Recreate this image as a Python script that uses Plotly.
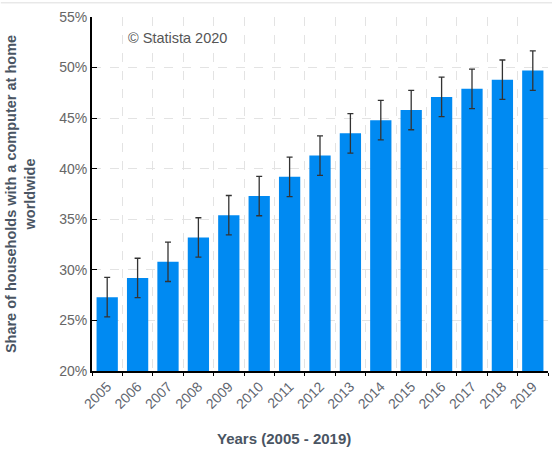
import plotly.graph_objects as go

years = ["2005", "2006", "2007", "2008", "2009", "2010", "2011", "2012",
         "2013", "2014", "2015", "2016", "2017", "2018", "2019"]
share = [27.3, 29.2, 30.8, 33.2, 35.4, 37.3, 39.2, 41.3,
         43.5, 44.8, 45.8, 47.1, 47.9, 48.8, 49.7]
err = [1.95, 1.95, 1.95, 1.95, 1.95, 1.95, 1.95, 1.95,
       1.95, 1.95, 1.95, 1.95, 1.95, 1.95, 1.95]
ytick_vals = [20, 25, 30, 35, 40, 45, 50, 55]
ytick_text = ["20%", "25%", "30%", "35%", "40%", "45%", "50%", "55%"]

FONT = "Liberation Sans, Arial, sans-serif"

fig = go.Figure(go.Bar(
    x=years, y=share,
    marker=dict(color="#008af2", line=dict(width=0)),
    error_y=dict(type="data", array=err, visible=True,
                 color="#333333", thickness=1.3, width=3),
))

fig.update_layout(
    width=552, height=452,
    margin=dict(l=92, r=4, t=17, b=81),
    paper_bgcolor="white", plot_bgcolor="white",
    bargap=0.3,
    showlegend=False,
    font=dict(family=FONT, color="#666666"),
    xaxis=dict(
        type="category",
        tickson="boundaries",
        tickangle=-45,
        tickfont=dict(size=14, color="#5f6670"),
        showline=True, linecolor="black", linewidth=2,
        ticks="outside", ticklen=3, tickcolor="black",
        showgrid=True, gridcolor="#e3e3e3", griddash="dash", gridwidth=1,
    ),
    yaxis=dict(
        range=[20, 55],
        tickvals=ytick_vals, ticktext=ytick_text,
        tickfont=dict(size=14, color="#666666"),
        showline=True, linecolor="black", linewidth=2,
        ticks="inside", ticklen=5, tickcolor="black",
        showgrid=True, gridcolor="#e3e3e3", griddash="dash", gridwidth=1,
        zeroline=False,
        title=dict(text="<b>Share of households with a computer at home<br>worldwide</b>",
                   font=dict(size=14.5, color="#4a5563", family=FONT), standoff=20),
    ),
    annotations=[
        dict(text="© Statista 2020", xref="paper", yref="paper",
             x=0.075, y=0.94, xanchor="left", yanchor="middle", showarrow=False,
             font=dict(size=14.5, color="#555555", family=FONT)),
        dict(text="<b>Years (2005 - 2019)</b>", xref="paper", yref="paper",
             x=0.42, y=-0.19, xanchor="center", yanchor="middle",
             showarrow=False, font=dict(size=15, color="#4a5563", family=FONT)),
    ],
    shapes=[
        dict(type="line", xref="paper", yref="paper", x0=-0.2, x1=1.01,
             y0=1.04, y1=1.04, line=dict(color="#dddddd", width=1)),
    ],
)

fig.write_html("out.html")
